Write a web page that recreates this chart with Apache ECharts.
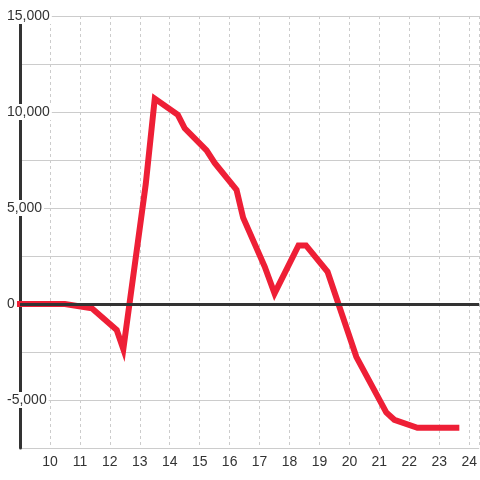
<!DOCTYPE html>
<html>
<head>
<meta charset="utf-8">
<script src="https://cdn.jsdelivr.net/npm/echarts@6/dist/echarts.min.js"></script>
<style>
  html, body { margin: 0; padding: 0; background: #fff; }
  #chart { width: 480px; height: 480px; }
</style>
</head>
<body>
<div id="chart"></div>
<script>
// values
const xs = [9, 10.5, 11.4, 12.23, 12.45, 13.2, 13.5, 14.27, 14.5, 15.23, 15.5, 16.23, 16.45,
  17.17, 17.5, 18.3, 18.55, 19.27, 20.23, 21.23, 21.5, 22.27, 23.57];
const ys = [0, 0, -220, -1350, -2350, 6250, 10700, 9850, 9150, 8000, 7350, 5950, 4500,
  1950, 550, 3050, 3050, 1680, -2750, -5650, -6030, -6450, -6450];
const xTicks = [10, 11, 12, 13, 14, 15, 16, 17, 18, 19, 20, 21, 22, 23, 24];
const yTicks = [-5000, 0, 5000, 10000, 15000];

const points = xs.map((x, i) => [x, ys[i]]);
const font = "'Liberation Sans', Arial, sans-serif";

const chart = echarts.init(document.getElementById('chart'));
chart.setOption({
  backgroundColor: '#fff',
  animation: false,
  grid: {left: 20, right: 0, top: 16, bottom: 32, containLabel: false},
  xAxis: {
    type: 'value',
    min: 9,
    max: 9 + 460 / 30,
    interval: 1,
    axisLine: {show: false},
    axisTick: {show: false},
    axisLabel: {
      margin: 7,
      fontSize: 14,
      color: '#333',
      fontFamily: font,
      showMinLabel: false,
      showMaxLabel: false,
      formatter: v => xTicks.includes(v) ? String(v) : ''
    },
    splitLine: {show: true, lineStyle: {color: '#ccc', width: 1, type: [3, 3]}}
  },
  yAxis: {
    type: 'value',
    min: -7500,
    max: 15000,
    interval: 2500,
    axisLine: {show: true, lineStyle: {color: '#333', width: 3}},
    axisTick: {show: false},
    axisLabel: {
      inside: false,
      margin: 14,
      align: 'left',
      fontSize: 14,
      color: '#333',
      fontFamily: font,
      formatter: v => yTicks.includes(v) ? '{b|' + v.toLocaleString('en-US') + '}' : '',
      rich: {
        b: {
          fontSize: 14,
          color: '#333',
          fontFamily: font,
          backgroundColor: '#fff',
          padding: [1, 2, 1, 1]
        }
      }
    },
    splitLine: {show: true, lineStyle: {color: '#ccc', width: 1}}
  },
  series: [
    {
      type: 'line',
      data: [],
      z: 1,
      silent: true,
      markLine: {
        silent: true,
        symbol: 'none',
        label: {show: false},
        lineStyle: {color: '#333', width: 3, type: 'solid'},
        data: [{yAxis: 0}]
      }
    },
    {
      type: 'line',
      data: points,
      z: 3,
      showSymbol: false,
      lineStyle: {color: '#ee1f36', width: 6, join: 'miter', cap: 'square'}
    }
  ]
});
</script>
</body>
</html>
